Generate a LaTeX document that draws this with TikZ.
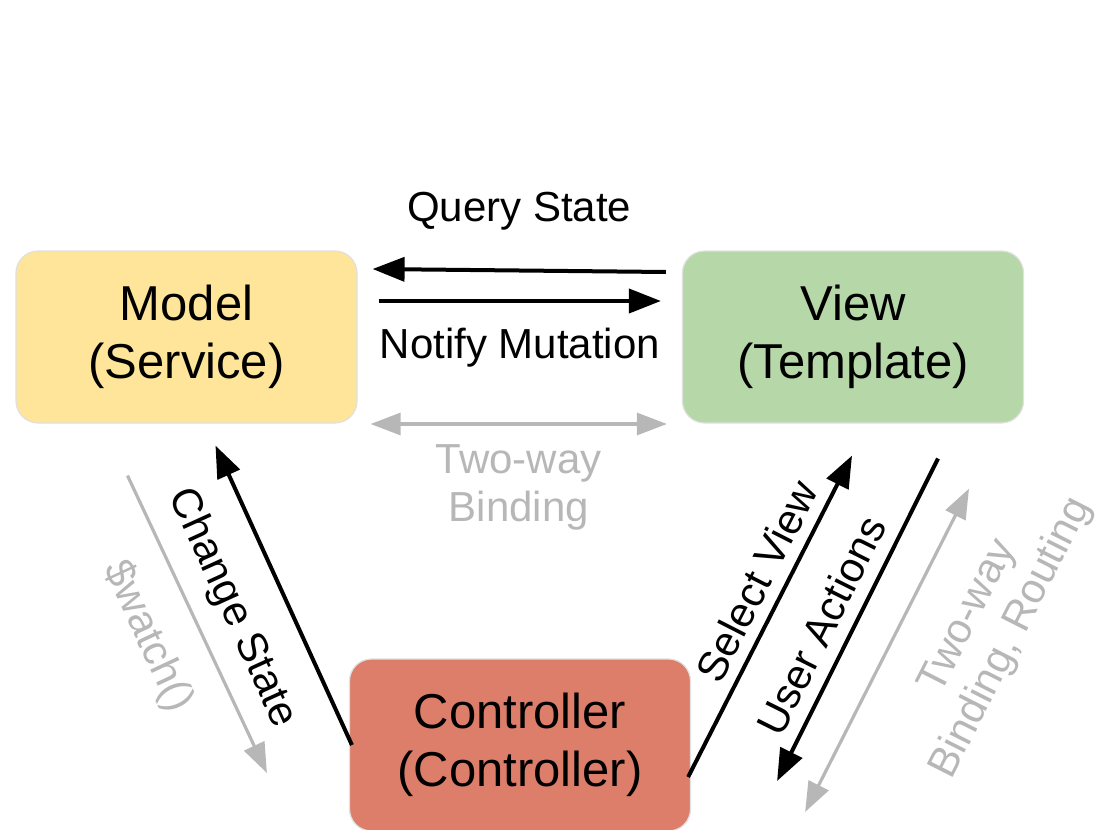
\documentclass[tikz,border=0pt]{standalone}
\usepackage{fontspec}
\setmainfont{Liberation Sans}
\usetikzlibrary{arrows.meta}
\definecolor{modelfill}{HTML}{FFE599}
\definecolor{viewfill}{HTML}{B6D7A8}
\definecolor{ctrlfill}{HTML}{DD7E6B}
\definecolor{bindgray}{HTML}{B7B7B7}
\begin{document}
\begin{tikzpicture}[x=0.5pt, y=-0.5pt,
  main/.style = {draw=black!12, line width=0.6pt, rounded corners=11pt, minimum width=170.5pt, minimum height=86pt, align=center, font=\fontsize{24.5}{29}\selectfont},
  lbl/.style = {font=\fontsize{21}{24}\selectfont, align=center},
  flow/.style = {line width=2pt, -{Triangle[length=16pt,width=12pt]}},
  bind/.style = {line width=1.6pt, draw=bindgray, text=bindgray, {Triangle[length=15pt,width=11pt]}-{Triangle[length=15pt,width=11pt]}},
  node distance=333.25pt]
\useasboundingbox (0,0) rectangle (1099,830);
\node[main, fill=modelfill] (model) at (186.5,337) {Model\\(Service)};
\node[main, fill=viewfill] (view) [right of=model] {View\\(Template)};
\node[main, fill=ctrlfill] (ctrl) at (520,745) {Controller\\(Controller)};
% model <-> view
\draw[flow] ([shift={(-16,-65)}]view.west) -- ([shift={(15,-68)}]model.east)
  node[lbl, midway, anchor=base, yshift=24.5pt] {Query State};
\draw[flow] ([shift={(21,-36)}]model.east) -- ([shift={(-21,-36)}]view.west)
  node[lbl, midway, anchor=base, yshift=-28.5pt] {Notify Mutation};
\draw[bind] ([shift={(13,87)}]model.east) -- ([shift={(-15,87)}]view.west)
  node[lbl, midway, below=6pt] {Two-way\\Binding};
% controller <-> model
\draw[flow] ([shift={(3,0)}]ctrl.west) -- ([shift={(29,22)}]model.south)
  node[lbl, pos=0.53, sloped, below=12pt] {Change State};
\draw[bind, -{Triangle[length=15pt,width=11pt]}] ([shift={(-59,52)}]model.south) -- ([shift={(-82,28)}]ctrl.west)
  node[lbl, pos=0.47, sloped, below=11pt] {\$watch()};
% controller <-> view
\draw[flow] ([shift={(-3,32)}]ctrl.east) -- ([shift={(-1,32)}]view.south)
  node[lbl, pos=0.57, sloped, above=2pt] {Select View};
\draw[flow] ([shift={(85,35)}]view.south) -- ([shift={(86,36)}]ctrl.east)
  node[lbl, pos=0.56, sloped, above=3pt] {User Actions};
\draw[bind] ([shift={(116,65)}]view.south) -- ([shift={(114,67)}]ctrl.east)
  node[lbl, pos=0.315, sloped, below=15.5pt] {Two-way\\Binding, Routing};
\end{tikzpicture}
\end{document}
